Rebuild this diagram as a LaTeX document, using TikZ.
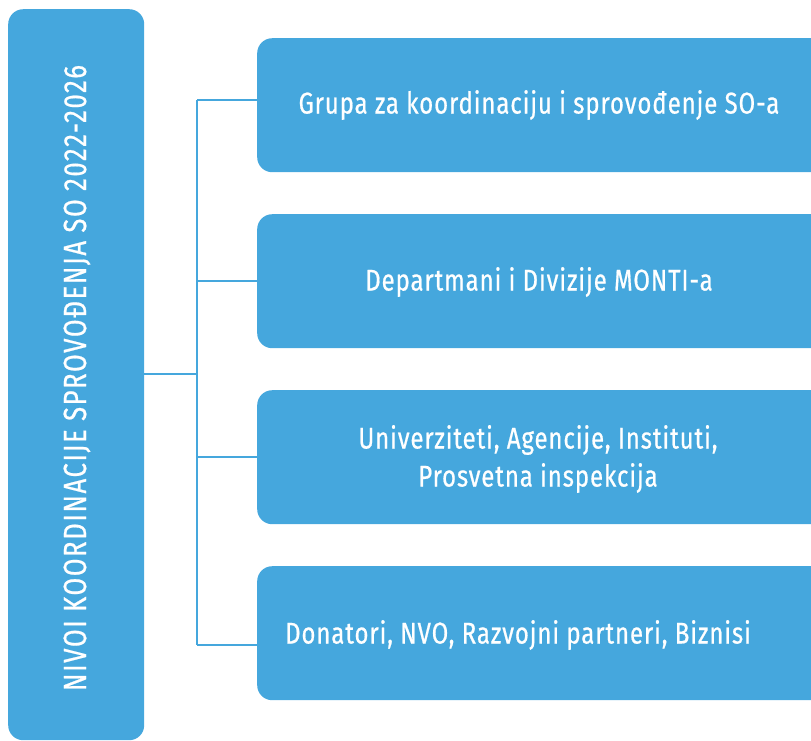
\documentclass[tikz,border=0pt]{standalone}
\usepackage{fontspec}
\setmainfont{Fira Sans}[FakeStretch=0.8,FakeBold=0.6,LetterSpace=3]
\usetikzlibrary{positioning}
\definecolor{levelblue}{HTML}{45A7DD}
\tikzset{
  levelbox/.style={
    fill=levelblue, draw=none, rounded corners=15pt, inner sep=0pt
  },
  itembox/.style={
    levelbox, anchor=north west, minimum width=600pt, minimum height=134pt
  },
  itemtext/.style={
    text=white, font=\fontsize{30}{38}\selectfont, align=center
  },
  leveltext/.style={
    itemtext, rotate=90, font=\fontsize{32}{38}\selectfont\addfontfeatures{LetterSpace=5}
  },
  link/.style={
    draw=levelblue, line width=2pt
  }
}

\begin{document}
\begin{tikzpicture}[x=1pt,y=-1pt]
\useasboundingbox (0,0) rectangle (811,740);
\clip (0,0) rectangle (811,740);
\node[levelbox, anchor=north west, minimum width=136pt, minimum height=731pt] (level) at (8,9) {};
\node[leveltext] (levelname) at (77,378) {NIVOI KOORDINACIJE SPROVOĐENJA SO 2022-2026};
% coordination groups
\node[itembox] (grupa) at (257,38) {};
\node[itembox] (departmani) at (257,214) {};
\node[itembox] (univerziteti) at (257,390) {};
\node[itembox] (donatori) at (257,566) {};
\node[itemtext] (grupatext) at (539,105) {Grupa za koordinaciju i sprovođenje SO-a};
\node[itemtext] (departmanitext) at (539,282) {Departmani i Divizije MONTI-a};
\node[itemtext] (univerzitetitext) at (538,459) {Univerziteti, Agencije, Instituti,\\Prosvetna inspekcija};
\node[itemtext] (donatoritext) at (518,635) {Donatori, NVO, Razvojni partneri, Biznisi};
% connectors
\coordinate (trunk) at (197,374);
\coordinate (trunktop) at (197,100);
\coordinate (trunkbottom) at (197,645);
\draw[link] (level.east |- trunk) -- (trunk);
\draw[link] (trunktop) -- (trunkbottom);
\draw[link] (trunktop) -- (grupa.west |- trunktop);
\draw[link] (trunktop |- departmani.west) -- (departmani.west);
\draw[link] (trunktop |- univerziteti.west) -- (univerziteti.west);
\draw[link] (trunkbottom) -- (donatori.west |- trunkbottom);
\end{tikzpicture}
\end{document}
